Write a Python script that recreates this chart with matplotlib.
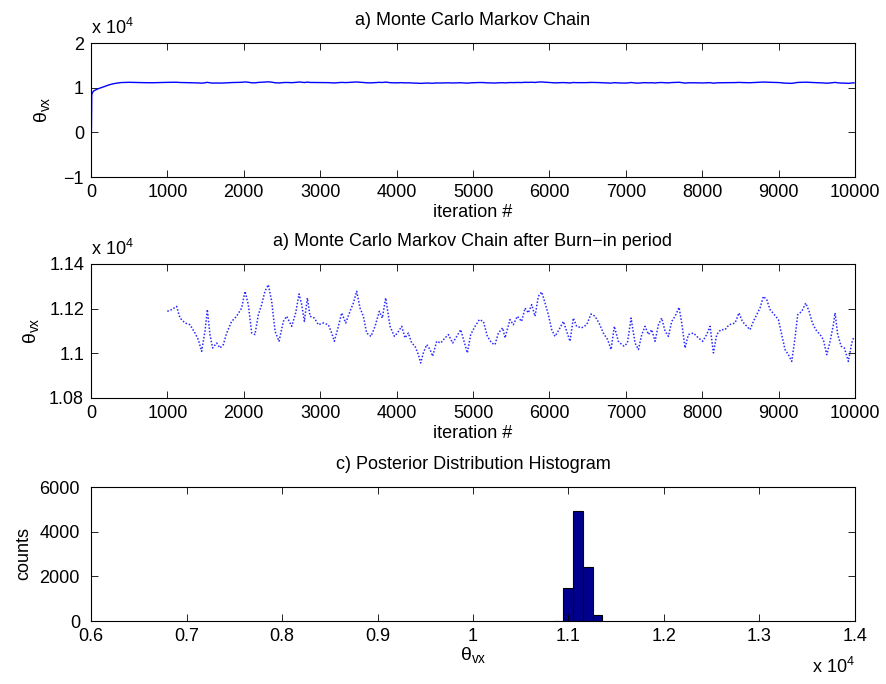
import numpy as np
import matplotlib
matplotlib.use('Agg')
import matplotlib.pyplot as plt
from matplotlib.ticker import FuncFormatter

plt.rcParams['font.family'] = ['Liberation Sans', 'DejaVu Sans']
plt.rcParams['mathtext.fontset'] = 'custom'
plt.rcParams['mathtext.rm'] = 'Liberation Sans'
plt.rcParams['mathtext.it'] = 'Liberation Sans:italic'
plt.rcParams['font.size'] = 13

# burn-in part of the chain
burn_iter = [0, 5, 10, 30, 60, 100, 150, 200, 250, 300, 350, 400, 500, 600, 700, 800, 900]
burn_vals = [-500, -300, 8500, 9200, 9500, 9800, 10100, 10400, 10700, 10900, 11050, 11150,
             11200, 11150, 11120, 11100, 11150]

# chain after burn-in
chain_iter = [999, 1056, 1121, 1165, 1230, 1296, 1361, 1405, 1448, 1492, 1523, 1557, 1592,
              1645, 1688, 1732, 1776, 1841, 1906, 1972, 2016, 2059, 2103, 2146, 2190, 2234,
              2277, 2321, 2365,
              2409, 2461, 2518, 2561, 2627, 2679, 2723, 2758, 2793, 2832, 2867, 2923, 2976,
              3041, 3107, 3150, 3185, 3238, 3281, 3334, 3390, 3434, 3478, 3521, 3565, 3608,
              3665, 3718, 3774, 3813, 3857, 3914, 3971,
              4010, 4067, 4110, 4154, 4198, 4241, 4285, 4315, 4350, 4394, 4438, 4472, 4525,
              4577, 4634, 4678, 4734, 4787, 4839, 4883, 4926, 4970, 5027, 5083, 5136, 5188,
              5245, 5288, 5332, 5389,
              5419, 5484, 5528, 5580, 5637, 5681, 5724, 5768, 5812, 5855, 5899, 5943, 5986,
              6030, 6073, 6126, 6183, 6226, 6270, 6313, 6357, 6422, 6488, 6545, 6597, 6649,
              6706, 6763, 6807, 6850, 6902,
              6925, 6977, 7021, 7069, 7121, 7165, 7209, 7252, 7296, 7339, 7383, 7427, 7470,
              7514, 7558, 7601, 7645, 7697, 7732, 7776, 7819, 7885, 7950, 8007, 8059, 8103,
              8147, 8190, 8243, 8299, 8352,
              8430, 8482, 8526, 8583, 8626, 8670, 8714, 8757, 8801, 8845, 8888, 8945, 8997,
              9041, 9084, 9128, 9172, 9215, 9250, 9303, 9355, 9399, 9442, 9486, 9543, 9586,
              9630, 9674, 9717, 9739, 9774, 9818, 9861, 9913, 9957, 9988]
chain_vals = [11188, 11196, 11210, 11158, 11136, 11128, 11091, 11061, 11009, 11099, 11196, 11084, 11024,
              11046, 11024, 11039, 11091, 11143, 11166, 11203, 11278, 11218, 11091, 11084, 11173, 11218,
              11278, 11307, 11233,
              11099, 11054, 11143, 11166, 11121, 11181, 11266, 11218, 11143, 11248, 11166, 11158, 11128,
              11136, 11128, 11091, 11054, 11121, 11181, 11136, 11188, 11225, 11278, 11203, 11166, 11091,
              11076, 11121, 11188, 11158, 11248, 11121, 11076,
              11091, 11121, 11069, 11091, 11046, 11032, 10994, 10957, 11002, 11039, 11017, 10987, 11054,
              11046, 11069, 11084, 11046, 11076, 11106, 11054, 11002, 11084, 11121, 11151, 11143, 11076,
              11046, 11039, 11091, 11114,
              11069, 11151, 11128, 11166, 11143, 11203, 11181, 11218, 11166, 11255, 11275, 11225, 11173,
              11106, 11076, 11106, 11143, 11099, 11054, 11158, 11121, 11114, 11128, 11176, 11166, 11136,
              11091, 11061, 11017, 11121, 11054,
              11046, 11032, 11046, 11158, 11046, 11017, 11084, 11121, 11084, 11106, 11054, 11128, 11158,
              11099, 11076, 11143, 11166, 11206, 11136, 11024, 11084, 11091, 11069, 11054, 11084, 11121,
              11002, 11084, 11106, 11106, 11128,
              11136, 11181, 11143, 11121, 11106, 11143, 11173, 11203, 11255, 11240, 11196, 11173, 11151,
              11084, 11017, 10994, 10964, 11069, 11173, 11188, 11225, 11188, 11136, 11106, 11084, 11061,
              10994, 11054, 11128, 11181, 11084, 11032, 11024, 10964, 11046, 11076]

# posterior histogram
hist_edges = [10845, 10945, 11050, 11152, 11255, 11355]
hist_counts = [20, 1500, 4940, 2400, 250]


def scaled(v, pos):
    return f'{v / 1e4:g}'.replace('-', '\u2212')


def style(ax, ypad=5):
    ax.tick_params(direction='in', top=True, right=True, length=5, width=0.6)
    ax.tick_params(axis='x', pad=5)
    ax.tick_params(axis='y', pad=ypad)
    for s in ax.spines.values():
        s.set_linewidth(0.8)


fig = plt.figure(figsize=(8.87, 6.84), dpi=100)
left, width, height = 91 / 887, 764 / 887, 134 / 684
ax1 = fig.add_axes([left, 1 - 177 / 684, width, height])
ax2 = fig.add_axes([left, 1 - 398 / 684, width, height])
ax3 = fig.add_axes([left, 1 - 621 / 684, width, height])
theta = 'θ$_{\\mathrm{vx}}$'

# a) full chain
ax1.plot(burn_iter + chain_iter, burn_vals + chain_vals, color='blue', linewidth=1.0)
ax1.set_xlim(0, 10000)
ax1.set_ylim(-10000, 20000)
ax1.set_xticks(np.arange(0, 10001, 1000))
ax1.set_yticks([-10000, 0, 10000, 20000])
ax1.yaxis.set_major_formatter(FuncFormatter(scaled))
ax1.set_title('a) Monte Carlo Markov Chain', fontsize=13, pad=13)
ax1.set_xlabel('iteration #', labelpad=2)
ax1.set_ylabel(theta, labelpad=8, fontsize=14)
ax1.text(0, 1.04, 'x 10$^{4}$', transform=ax1.transAxes, ha='left', va='bottom')
style(ax1)

# chain after burn-in
ax2.plot(chain_iter, chain_vals, color='#2a2aff', linestyle=(0, (1, 1.2)), linewidth=1.1)
ax2.set_xlim(0, 10000)
ax2.set_ylim(10800, 11400)
ax2.set_xticks(np.arange(0, 10001, 1000))
ax2.set_yticks([10800, 11000, 11200, 11400])
ax2.yaxis.set_major_formatter(FuncFormatter(scaled))
ax2.set_title('a) Monte Carlo Markov Chain after Burn\u2212in period', fontsize=13, pad=13)
ax2.set_xlabel('iteration #', labelpad=2)
ax2.set_ylabel(theta, labelpad=6, fontsize=14)
ax2.text(0, 1.04, 'x 10$^{4}$', transform=ax2.transAxes, ha='left', va='bottom')
style(ax2)

# c) histogram
ax3.bar(hist_edges[:-1], hist_counts, width=np.diff(hist_edges), align='edge',
        color='#00008f', edgecolor='black', linewidth=0.8)
ax3.set_xlim(6000, 14000)
ax3.set_ylim(0, 6000)
ax3.set_xticks(np.arange(6000, 14001, 1000))
ax3.set_yticks([0, 2000, 4000, 6000])
ax3.xaxis.set_major_formatter(FuncFormatter(scaled))
ax3.set_title('c) Posterior Distribution Histogram', fontsize=13, pad=13)
ax3.set_xlabel(theta, labelpad=0, fontsize=14)
ax3.set_ylabel('counts', labelpad=5)
ax3.text(1.0, -0.34, 'x 10$^{4}$', transform=ax3.transAxes, ha='right', va='center')
style(ax3, ypad=8)

fig.savefig('out.png', dpi=100, facecolor='white')
